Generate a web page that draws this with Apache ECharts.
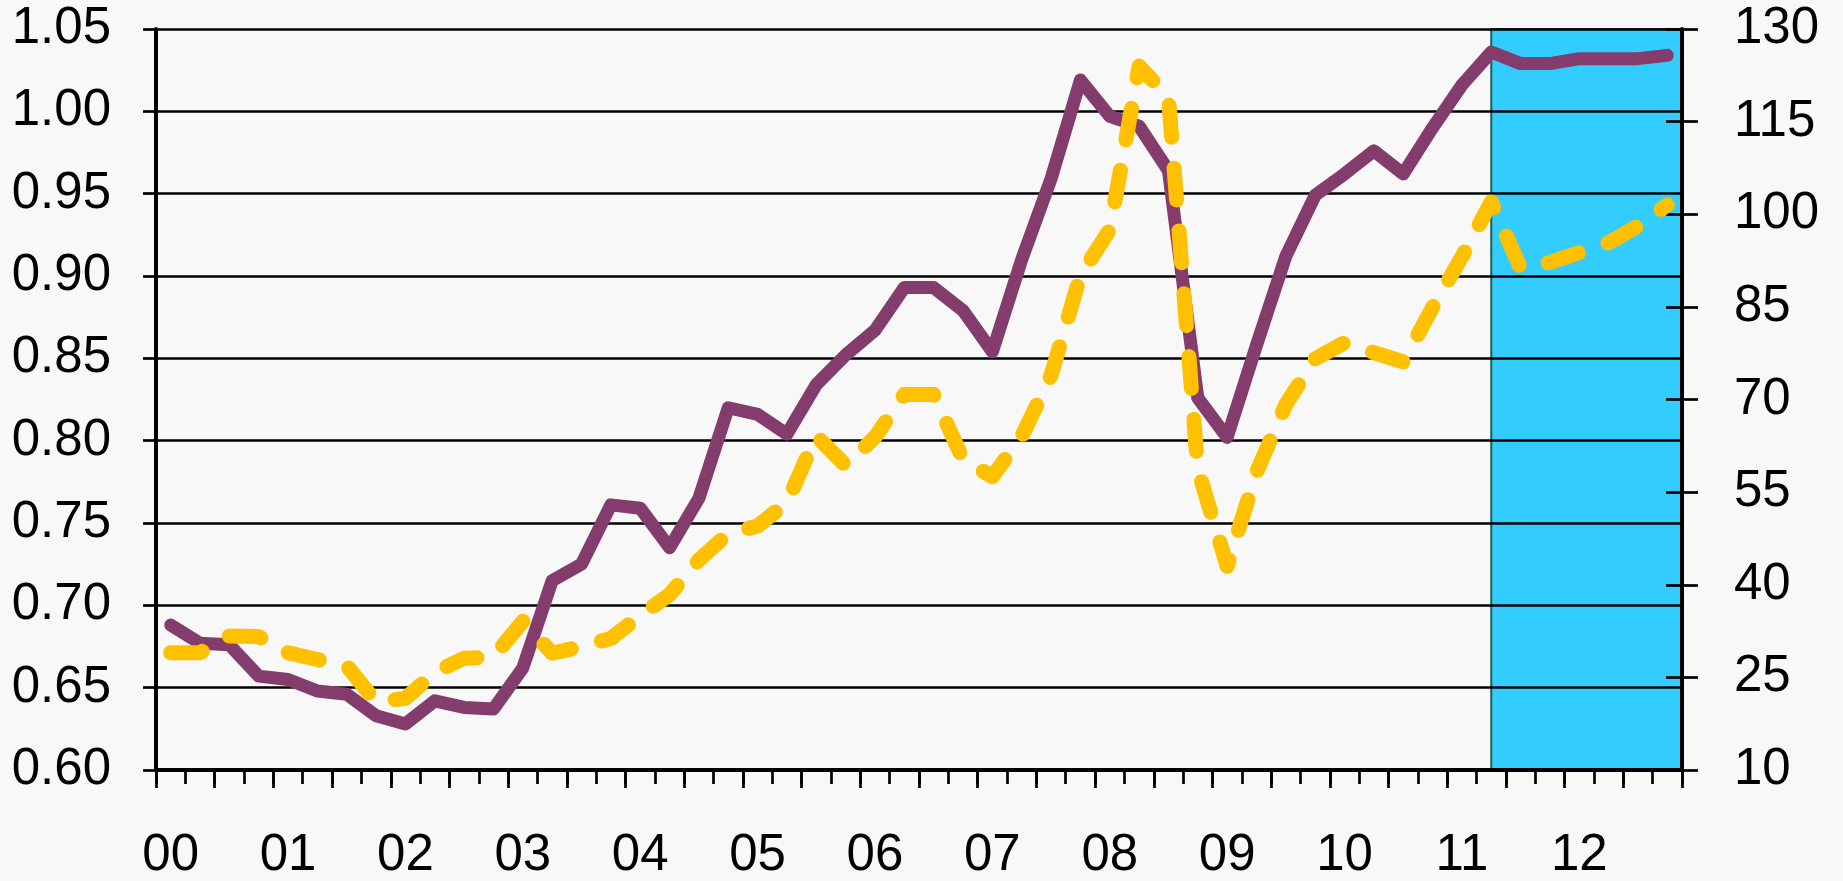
<!DOCTYPE html>
<html>
<head>
<meta charset="utf-8">
<script src="https://cdn.jsdelivr.net/npm/echarts@6/dist/echarts.min.js"></script>
<style>
html, body { margin: 0; padding: 0; background: #f8f8f8; }
#chart { width: 1843px; height: 881px; }
</style>
</head>
<body>
<div id="chart"></div>
<script>
// quarterly categories, 2000 Q1 .. 2012 Q4
var years = ['00', '01', '02', '03', '04', '05', '06', '07', '08', '09', '10', '11', '12'];
var quarters = ['Q1', 'Q2', 'Q3', 'Q4'];
var categories = [];
years.forEach(function (y) {
    quarters.forEach(function (q) { categories.push(y + q); });
});

// solid line, left axis
var leftValues = [
    0.688, 0.677, 0.676, 0.657, 0.655, 0.648, 0.646, 0.633, 0.628, 0.642, 0.638, 0.637,
    0.662, 0.715, 0.725, 0.761, 0.759, 0.735, 0.765, 0.820, 0.816, 0.804, 0.834, 0.852,
    0.867, 0.893, 0.893, 0.879, 0.854, 0.910, 0.959, 1.019, 0.997, 0.991, 0.964, 0.826,
    0.802, 0.858, 0.912, 0.949, 0.962, 0.976, 0.962, 0.990, 1.016, 1.036, 1.029, 1.029,
    1.032, 1.032, 1.032, 1.034
];

// dashed line, right axis
var rightValues = [
    29.0, 29.0, 31.7, 31.6, 29.0, 27.9, 26.9, 21.0, 21.6, 25.8, 28.1, 28.3,
    34.1, 28.9, 30.0, 31.3, 35.0, 38.4, 44.0, 48.3, 49.5, 53.3, 64.1, 59.3,
    63.9, 70.8, 70.8, 60.3, 57.5, 64.0, 73.9, 90.1, 97.5, 124.0, 119.0, 58.7,
    43.0, 58.2, 69.2, 76.6, 79.2, 77.6, 76.1, 84.9, 93.1, 102.0, 91.3, 92.2,
    93.8, 95.4, 98.1, 101.5
];

var leftMin = 0.60, leftMax = 1.05, leftStep = 0.05;
var rightTicks = [10, 25, 40, 55, 70, 85, 100, 115, 130];
var forecastStart = '11Q2';

var font = 'Liberation Sans, Arial, sans-serif';
var black = '#000';

// shaded forecast block, in units of the hidden 0..N axis
var shadeFrom = categories.indexOf(forecastStart) + 0.5;
var shadeData = [[shadeFrom, leftMin], [shadeFrom, leftMax], [categories.length, leftMax]];

// hidden 0..N axis that only draws quarter ticks
function tickAxis(step, len) {
    return {
        type: 'value',
        min: 0,
        max: categories.length,
        interval: step,
        position: 'bottom',
        z: 1,
        axisLine: { show: false, onZero: false },
        axisTick: {
            show: true,
            length: len,
            lineStyle: { color: black, width: 2.7 }
        },
        axisLabel: { show: false },
        splitLine: { show: false }
    };
}

var chart = echarts.init(document.getElementById('chart'));

chart.setOption({
    animation: false,
    backgroundColor: '#f8f8f8',
    grid: {
        left: 156,
        right: 161,
        top: 29,
        bottom: 110
    },
    xAxis: [{
        type: 'category',
        data: categories,
        boundaryGap: true,
        position: 'bottom',
        z: 1,
        axisLine: {
            onZero: false,
            lineStyle: { color: black, width: 4 }
        },
        axisTick: { show: false },
        axisLabel: {
            interval: 3,
            margin: 60,
            color: black,
            fontFamily: font,
            fontSize: 51,
            formatter: function (v) { return v.slice(0, 2); }
        },
        splitLine: { show: false }
    }, tickAxis(1, 14), tickAxis(2, 18)],
    yAxis: [{
        type: 'value',
        min: leftMin,
        max: leftMax,
        interval: leftStep,
        position: 'left',
        z: 1,
        axisLine: {
            show: true,
            onZero: false,
            lineStyle: { color: black, width: 4 }
        },
        axisTick: {
            show: true,
            length: 13,
            lineStyle: { color: black, width: 2.7 }
        },
        axisLabel: {
            margin: 45,
            color: black,
            fontFamily: font,
            fontSize: 51,
            formatter: function (v) { return v.toFixed(2); }
        },
        splitLine: {
            show: true,
            lineStyle: { color: black, width: 2.7 }
        }
    }, {
        type: 'value',
        min: rightTicks[0],
        max: rightTicks[rightTicks.length - 1],
        position: 'right',
        z: 1,
        axisLine: {
            show: true,
            onZero: false,
            lineStyle: { color: black, width: 4 }
        },
        axisTick: {
            show: true,
            customValues: rightTicks,
            length: 16,
            lineStyle: { color: black, width: 2.7 }
        },
        axisLabel: {
            customValues: rightTicks,
            margin: 52,
            color: black,
            fontFamily: font,
            fontSize: 51
        },
        splitLine: { show: false }
    }, {
        // inner half of the crossing ticks on the right
        type: 'value',
        min: rightTicks[0],
        max: rightTicks[rightTicks.length - 1],
        position: 'right',
        z: 1,
        axisLine: { show: false, onZero: false },
        axisTick: {
            show: true,
            inside: true,
            customValues: rightTicks,
            length: 16,
            lineStyle: { color: black, width: 2.7 }
        },
        axisLabel: { show: false },
        splitLine: { show: false }
    }],
    series: [{
        type: 'line',
        xAxisIndex: 1,
        yAxisIndex: 0,
        z: 0,
        silent: true,
        symbol: 'none',
        data: shadeData,
        lineStyle: { color: '#1b5e55', width: 2 },
        areaStyle: { color: '#33ccff', opacity: 1, origin: 'start' }
    }, {
        type: 'line',
        xAxisIndex: 0,
        yAxisIndex: 0,
        z: 3,
        symbol: 'none',
        data: leftValues,
        lineStyle: { color: '#843c6c', width: 13, join: 'round', cap: 'round' }
    }, {
        type: 'line',
        xAxisIndex: 0,
        yAxisIndex: 1,
        z: 4,
        symbol: 'none',
        data: rightValues,
        lineStyle: { color: '#ffc000', width: 15, type: [32, 31], join: 'round', cap: 'round' }
    }]
});
</script>
</body>
</html>
